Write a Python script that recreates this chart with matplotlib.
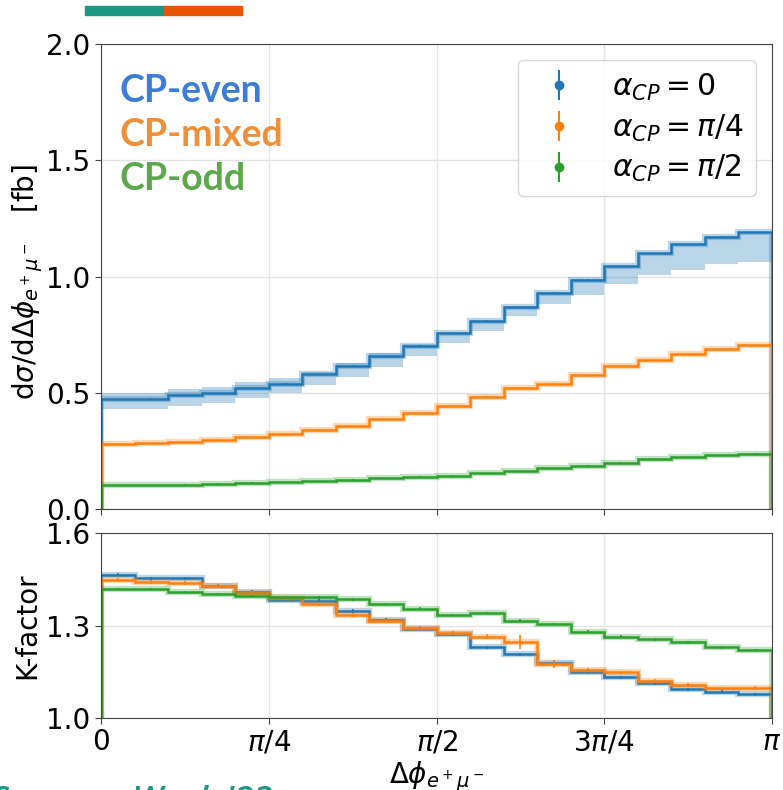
import numpy as np
import matplotlib.pyplot as plt
from matplotlib.patches import Rectangle

# 20 bins in delta phi from 0 to pi
edges = np.linspace(0, np.pi, 21)
centers = 0.5 * (edges[1:] + edges[:-1])

# d sigma / d delta phi [fb]
xs_even = [0.472, 0.475, 0.489, 0.499, 0.519, 0.538, 0.579, 0.617, 0.658, 0.702,
           0.758, 0.810, 0.870, 0.930, 0.986, 1.044, 1.100, 1.138, 1.171, 1.190]
xs_mixed = [0.280, 0.282, 0.287, 0.297, 0.308, 0.321, 0.341, 0.357, 0.386, 0.411,
            0.443, 0.483, 0.519, 0.538, 0.575, 0.615, 0.641, 0.668, 0.688, 0.704]
xs_odd = [0.102, 0.103, 0.105, 0.108, 0.112, 0.116, 0.120, 0.126, 0.132, 0.138,
          0.143, 0.153, 0.165, 0.176, 0.186, 0.198, 0.214, 0.224, 0.231, 0.237]
xs_err = [0.002] * 20
xs_err_mixed = [0.002] * 12 + [0.004, 0.003] + [0.002] * 6

# scale band for CP-even
band_hi = [0.498, 0.498, 0.515, 0.523, 0.545, 0.562, 0.591, 0.629, 0.670, 0.710,
           0.763, 0.814, 0.874, 0.933, 0.989, 1.046, 1.102, 1.140, 1.174, 1.193]
band_lo = [0.429, 0.429, 0.443, 0.457, 0.476, 0.498, 0.533, 0.569, 0.612, 0.658,
           0.715, 0.767, 0.831, 0.880, 0.920, 0.966, 1.005, 1.028, 1.052, 1.064]

# K-factors
k_even = [1.464, 1.453, 1.453, 1.429, 1.410, 1.383, 1.380, 1.347, 1.318, 1.289,
          1.271, 1.229, 1.207, 1.179, 1.150, 1.132, 1.112, 1.093, 1.085, 1.077]
k_mixed = [1.448, 1.442, 1.437, 1.429, 1.406, 1.390, 1.370, 1.334, 1.315, 1.291,
           1.275, 1.264, 1.247, 1.176, 1.156, 1.148, 1.120, 1.107, 1.096, 1.098]
k_odd = [1.418, 1.418, 1.408, 1.403, 1.395, 1.391, 1.391, 1.385, 1.370, 1.355,
         1.334, 1.340, 1.316, 1.305, 1.280, 1.264, 1.255, 1.245, 1.229, 1.221]
k_err_even = [0.005] * 20
k_err_mixed = [0.006] * 11 + [0.008, 0.022, 0.013] + [0.006] * 6
k_err_odd = [0.004] * 20

colors = ['tab:blue', 'tab:orange', 'tab:green']
labels = [r'$\alpha_{CP} = 0$', r'$\alpha_{CP} = \pi/4$', r'$\alpha_{CP} = \pi/2$']

fig = plt.figure(figsize=(7.83, 7.9), dpi=100)
ax = fig.add_axes([0.129, 0.3557, 0.857, 0.5886])
axk = fig.add_axes([0.129, 0.0911, 0.857, 0.2342], sharex=ax)

for a in (ax, axk):
    a.grid(True, color='#e3e3e3', lw=1)
    a.set_axisbelow(True)
    for s in a.spines.values():
        s.set_color('#444444')
    a.tick_params(labelsize=20, length=4, color='#444444')

# top panel
ax.stairs(band_hi, edges, baseline=band_lo, fill=True, color='tab:blue', alpha=0.3, lw=0)
tops = [(xs_even, xs_err), (xs_mixed, xs_err_mixed), (xs_odd, xs_err)]
for (vals, err), c, lab in zip(tops, colors, labels):
    ax.stairs(vals, edges, color=c, lw=4.5, alpha=0.3)
    ax.stairs(vals, edges, color=c, lw=1.8)
    ax.errorbar(centers, vals, yerr=err, fmt='none', ecolor=c, elinewidth=1.2)
    # legend proxy
    ax.errorbar([np.nan], [np.nan], yerr=[np.nan], fmt='o', color=c, ms=6, label=lab)

ax.set_xlim(0, np.pi)
ax.set_ylim(0, 2.0)
ax.set_yticks([0.0, 0.5, 1.0, 1.5, 2.0])
ax.tick_params(labelbottom=False)
ax.set_ylabel(r'$\mathrm{d}\sigma/\mathrm{d}\Delta\phi_{e^+\mu^-}$   [fb]', fontsize=20)
ax.yaxis.set_label_coords(-0.083, 0.488)
ax.legend(loc='upper right', fontsize=21.5, labelspacing=0.32, borderpad=0.38,
          handlelength=2.0, borderaxespad=0.55)

ax.text(0.028, 0.875, 'CP-even', transform=ax.transAxes, color='#3b7dd8',
        family='Lato', weight='bold', fontsize=27, va='baseline')
ax.text(0.028, 0.781, 'CP-mixed', transform=ax.transAxes, color='#ef9038',
        family='Lato', weight='bold', fontsize=27, va='baseline')
ax.text(0.028, 0.686, 'CP-odd', transform=ax.transAxes, color='#5ca84b',
        family='Lato', weight='bold', fontsize=27, va='baseline')

# K-factor panel
bottoms = [(k_even, k_err_even), (k_mixed, k_err_mixed), (k_odd, k_err_odd)]
for (vals, err), c in zip(bottoms, colors):
    axk.stairs(vals, edges, color=c, lw=4.5, alpha=0.3)
    axk.stairs(vals, edges, color=c, lw=1.8)
    axk.errorbar(centers, vals, yerr=err, fmt='none', ecolor=c, elinewidth=1.2)

axk.set_ylim(1.0, 1.6)
axk.set_yticks([1.0, 1.3, 1.6])
axk.set_xticks([0, np.pi / 4, np.pi / 2, 3 * np.pi / 4, np.pi])
axk.set_xticklabels(['0', r'$\pi/4$', r'$\pi/2$', r'$3\pi/4$', r'$\pi$'])
axk.set_ylabel('K-factor', fontsize=20)
axk.set_xlabel(r'$\Delta\phi_{e^+\mu^-}$', fontsize=20, labelpad=2)

# slide decoration
fig.patches.append(Rectangle((85 / 783, 1 - 15 / 790), 79 / 783, 9 / 790,
                             transform=fig.transFigure, color='#1a9985', zorder=5))
fig.patches.append(Rectangle((164 / 783, 1 - 15 / 790), 78 / 783, 9 / 790,
                             transform=fig.transFigure, color='#e85505', zorder=5))
fig.text(-0.012, -0.027, "Summer Week '23", color='#1a9985', fontsize=25,
         family='Open Sans', style='italic', weight='semibold', va='baseline')

fig.savefig('out.png', dpi=100)
